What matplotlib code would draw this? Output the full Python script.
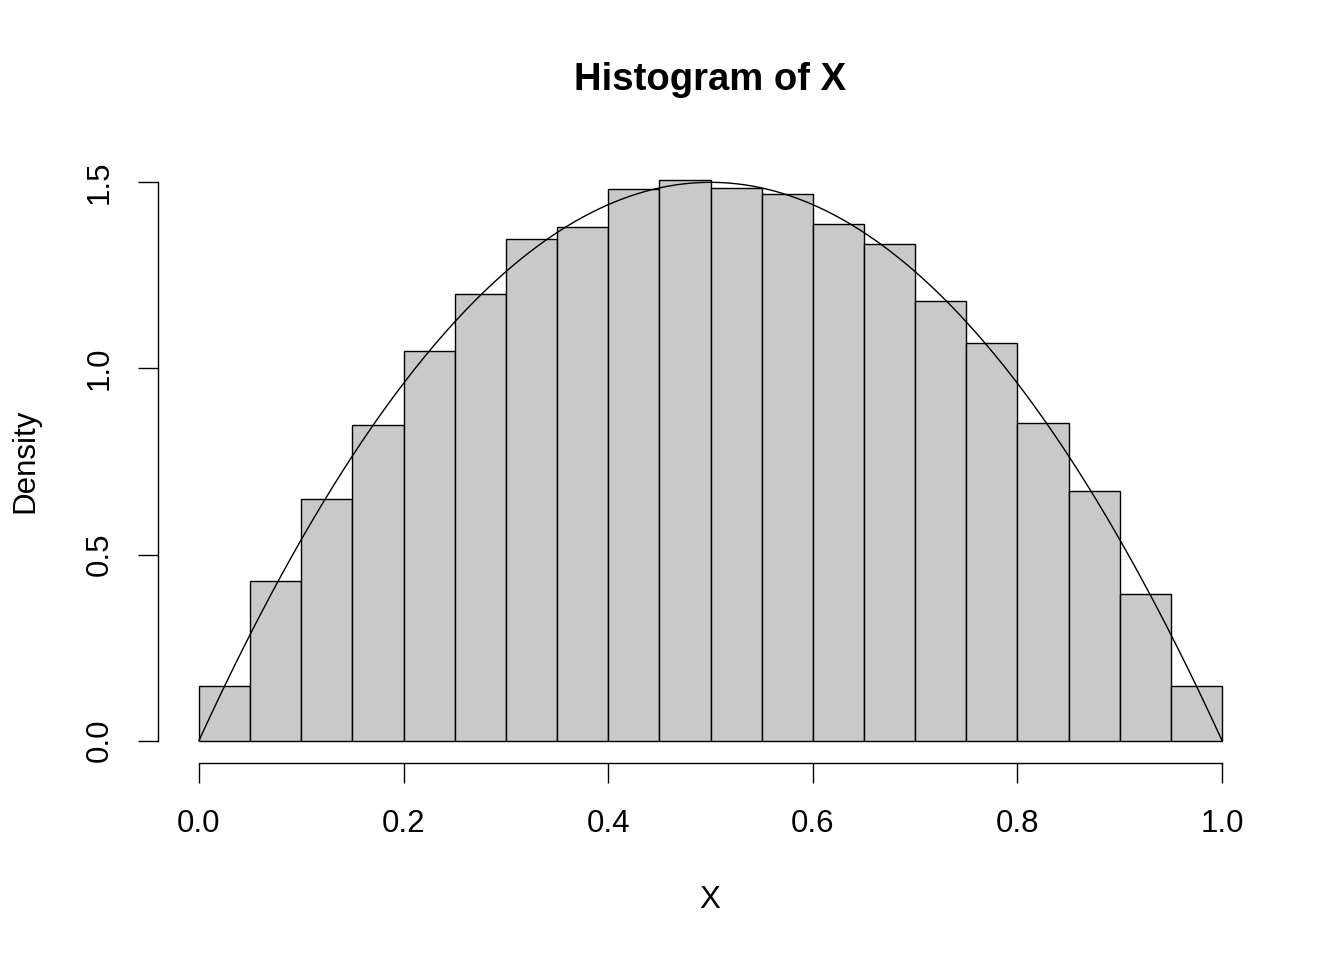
import numpy as np
import matplotlib.pyplot as plt

plt.rcParams['font.family'] = ['Liberation Sans', 'DejaVu Sans']

# histogram bins and densities
bin_edges = [0.00, 0.05, 0.10, 0.15, 0.20, 0.25, 0.30, 0.35, 0.40, 0.45, 0.50,
             0.55, 0.60, 0.65, 0.70, 0.75, 0.80, 0.85, 0.90, 0.95, 1.00]
densities = [0.148, 0.429, 0.649, 0.848, 1.046, 1.199, 1.347, 1.379, 1.481, 1.505,
             1.486, 1.470, 1.387, 1.333, 1.181, 1.068, 0.853, 0.671, 0.394, 0.148]

# overlaid theoretical density: Beta(2, 2)
BETA_A = 2
BETA_B = 2

x_ticks = [0.0, 0.2, 0.4, 0.6, 0.8, 1.0]
x_ticklabels = ["0.0", "0.2", "0.4", "0.6", "0.8", "1.0"]
y_ticks = [0.0, 0.5, 1.0, 1.5]
y_ticklabels = ["0.0", "0.5", "1.0", "1.5"]

W, H = 1344, 960
fig = plt.figure(figsize=(W / 100, H / 100), dpi=100)
ax = fig.add_axes([158 / W, (H - 763) / H, (1263 - 158) / W, (763 - 160) / H])

edges = np.array(bin_edges)
ax.bar(edges[:-1], densities, width=np.diff(edges), align="edge",
       color="#C9C9C9", edgecolor="black", linewidth=1.0)

xs = np.linspace(0, 1, 400)
beta_const = 6.0  # 1 / B(2, 2)
ax.plot(xs, beta_const * xs ** (BETA_A - 1) * (1 - xs) ** (BETA_B - 1),
        color="black", linewidth=1.0)

ax.set_xlim(-0.04, 1.04)
ax.set_ylim(-0.06, 1.56)

for side in ["top", "right"]:
    ax.spines[side].set_visible(False)
ax.spines["left"].set_bounds(0, 1.5)
ax.spines["bottom"].set_bounds(0, 1.0)
for side in ["left", "bottom"]:
    ax.spines[side].set_linewidth(1.0)

ax.set_xticks(x_ticks)
ax.set_xticklabels(x_ticklabels)
ax.set_yticks(y_ticks)
ax.set_yticklabels(y_ticklabels, rotation=90, va="center")
ax.tick_params(axis="both", direction="out", length=14.4, width=1.0, labelsize=22.5)
ax.tick_params(axis="x", pad=19)
ax.tick_params(axis="y", pad=17)

fig.text(710 / W, 1 - 80 / H, "Histogram of X", ha="center", va="center",
         fontsize=27.5, fontweight="bold")
fig.text(710 / W, 1 - 900 / H, "X", ha="center", va="center", fontsize=22.5)
fig.text(25 / W, 1 - 461 / H, "Density", ha="center", va="center",
         fontsize=22.5, rotation=90)

fig.savefig("out.png", dpi=100)
